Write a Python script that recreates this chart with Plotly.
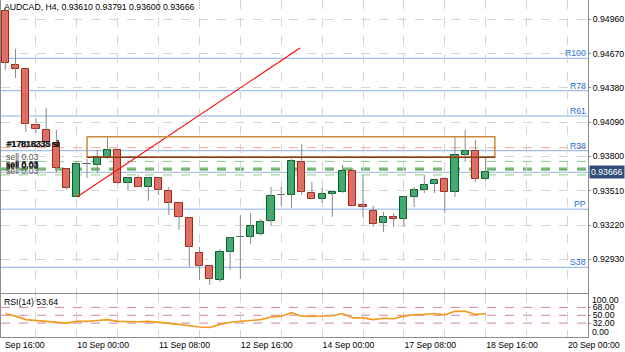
import plotly.graph_objects as go

# ---------------- data ----------------
symbol_title = "AUDCAD, H4, 0.93610 0.93791 0.93600 0.93666"
rsi_title = "RSI(14) 53.64"

bar_index = list(range(48))
opens = [0.95030, 0.94574, 0.94540, 0.94066, 0.94024, 0.93914, 0.93694, 0.93458,
         0.93737, 0.93728, 0.93796, 0.93855, 0.93576, 0.93618, 0.93542, 0.93618,
         0.93508, 0.93407, 0.93280, 0.92984, 0.92874, 0.92756, 0.92993, 0.93119,
         0.93119, 0.93145, 0.93255, 0.93475, 0.93475, 0.93753, 0.93491, 0.93441,
         0.93483, 0.93500, 0.93677, 0.93390, 0.93339, 0.93238, 0.93289, 0.93272,
         0.93458, 0.93517, 0.93567, 0.93610, 0.93500, 0.93813, 0.93846, 0.93610]
highs = [0.95056, 0.94709, 0.94545, 0.94126, 0.94210, 0.94024, 0.93700, 0.93762,
         0.93779, 0.93855, 0.93973, 0.93860, 0.93625, 0.93644, 0.93625, 0.93625,
         0.93542, 0.93412, 0.93285, 0.93035, 0.92880, 0.93018, 0.93120, 0.93305,
         0.93322, 0.93272, 0.93542, 0.93542, 0.93779, 0.93906, 0.93584, 0.93534,
         0.93505, 0.93728, 0.93703, 0.93644, 0.93382, 0.93331, 0.93322, 0.93462,
         0.93542, 0.93644, 0.93605, 0.93627, 0.93965, 0.94024, 0.93940, 0.93791]
lows = [0.94531, 0.94464, 0.94007, 0.93999, 0.93914, 0.93661, 0.93517, 0.93458,
        0.93618, 0.93661, 0.93779, 0.93570, 0.93517, 0.93540, 0.93424, 0.93475,
        0.93305, 0.93179, 0.92866, 0.92756, 0.92714, 0.92739, 0.92840, 0.92764,
        0.93060, 0.93128, 0.93212, 0.93382, 0.93365, 0.93475, 0.93436, 0.93407,
        0.93289, 0.93491, 0.93378, 0.93289, 0.93204, 0.93162, 0.93204, 0.93204,
        0.93373, 0.93491, 0.93491, 0.93322, 0.93458, 0.93753, 0.93584, 0.93600]
closes = [0.94591, 0.94540, 0.94075, 0.94033, 0.93923, 0.93703, 0.93534, 0.93737,
          0.93740, 0.93796, 0.93855, 0.93576, 0.93618, 0.93542, 0.93618, 0.93517,
          0.93407, 0.93289, 0.93035, 0.92874, 0.92764, 0.92993, 0.93111, 0.93122,
          0.93212, 0.93246, 0.93466, 0.93478, 0.93762, 0.93500, 0.93441, 0.93483,
          0.93500, 0.93677, 0.93382, 0.93373, 0.93229, 0.93289, 0.93272, 0.93458,
          0.93517, 0.93559, 0.93601, 0.93500, 0.93813, 0.93846, 0.93610, 0.93666]
rsi_values = [54, 48, 40, 38, 37, 34, 32, 36, 36, 38, 40, 36, 35, 35, 36, 34,
              31, 29, 26, 23, 22, 29, 34, 36, 39, 40, 46, 48, 56, 48, 47, 48,
              49, 54, 44, 44, 40, 43, 42, 48, 51, 52, 54, 51, 59, 59, 52, 53.64]

grid_index = [3, 7, 11, 15, 19, 23, 27, 31, 35, 39, 43, 47, 51, 55]
grid_text = ["", "10 Sep 00:00", "", "11 Sep 08:00", "", "12 Sep 16:00", "",
             "14 Sep 00:00", "", "17 Sep 08:00", "", "18 Sep 16:00", "", "20 Sep 00:00"]
first_time_label = "Sep 16:00"

price_ticks = [0.92930, 0.93220, 0.93510, 0.93800, 0.94090, 0.94380, 0.94670, 0.94960]
pivot_names = ["R100", "R78", "R61", "R38", "PP", "S38"]
pivot_levels = [0.94630, 0.94356, 0.94142, 0.93849, 0.93354, 0.92863]
bid_price = 0.93666
sl_level = 0.93874
sl_labels = ["#17818233 sl", "#17818330 sl", "#17818335 sl"]
order_levels = [0.93758, 0.93703, 0.93695, 0.93686, 0.93644]
order_labels = ["sell 0.03", "sell 0.03", "sell 0.03", "sell 0.03", "sell 0.03"]
box_x = [8.0, 47.9]
box_y = [0.93793, 0.93967]
trend_x = [7, 28.84]
trend_y = [0.93458, 0.94717]
rsi_levels = [68, 50, 32]
rsi_bounds = [100, 0]

# ---------------- styles ----------------
FONT = "Liberation Sans, Arial, sans-serif"
FS = 8.7
GRID = "#d4d4d4"
FRAME = "#8c8c8c"

up = [c >= o for o, c in zip(opens, closes)]
doji = [abs(c - o) < 0.00005 for o, c in zip(opens, closes)]
body_base = [min(o, c) for o, c in zip(opens, closes)]
body_h = [max(abs(c - o), 0.000015) for o, c in zip(opens, closes)]
fill = ["#8f8f8f" if d else ("#33b06a" if u else "#f3685b") for u, d in zip(up, doji)]
edge = ["#606060" if d else ("#0e5a2b" if u else "#9a2a1e") for u, d in zip(up, doji)]

wick_x, wick_y = [], []
for i, h, l in zip(bar_index, highs, lows):
    wick_x += [i, i, None]
    wick_y += [l, h, None]

fig = go.Figure()
fig.add_trace(go.Scatter(x=wick_x, y=wick_y, mode="lines",
                         line=dict(color="#8a8a8a", width=1),
                         xaxis="x", yaxis="y", hoverinfo="skip"))
fig.add_trace(go.Bar(x=bar_index, y=body_h, base=body_base, width=0.7,
                     marker=dict(color=fill, line=dict(color=edge, width=1)),
                     xaxis="x", yaxis="y", hoverinfo="skip"))
fig.add_trace(go.Scatter(x=trend_x, y=trend_y, mode="lines",
                         line=dict(color="#ff1010", width=1.2),
                         xaxis="x", yaxis="y", hoverinfo="skip"))
fig.add_trace(go.Scatter(x=bar_index, y=rsi_values, mode="lines",
                         line=dict(color="#f29a1c", width=1.6),
                         xaxis="x2", yaxis="y2", hoverinfo="skip"))

shapes = []
for lvl in pivot_levels:
    shapes.append(dict(type="line", xref="x domain", yref="y", x0=0, x1=1, y0=lvl, y1=lvl,
                       line=dict(color="#88aee6", width=1), layer="below"))
shapes.append(dict(type="line", xref="x domain", yref="y", x0=0, x1=1, y0=bid_price, y1=bid_price,
                   line=dict(color="#9db5d6", width=1), layer="below"))
shapes.append(dict(type="line", xref="x domain", yref="y", x0=0, x1=1, y0=sl_level, y1=sl_level,
                   line=dict(color="#f6a58c", width=1, dash="dash"), layer="below"))
order_colors = ["#8cc88c", "#7cc27c", "#4fa54f", "#2f8a2f", "#8cc88c"]
order_widths = [1, 1, 1, 1, 1]
for lvl, col, w in zip(order_levels, order_colors, order_widths):
    shapes.append(dict(type="line", xref="x domain", yref="y", x0=0, x1=1, y0=lvl, y1=lvl,
                       line=dict(color=col, width=w, dash="dash"), layer="below"))
shapes.append(dict(type="rect", xref="x", yref="y", x0=box_x[0], x1=box_x[1],
                   y0=box_y[0], y1=box_y[1], line=dict(color="#c98a3c", width=1.5)))
shapes.append(dict(type="line", xref="x", yref="y", x0=box_x[0], x1=box_x[1],
                   y0=box_y[0], y1=box_y[0], line=dict(color="#8a3a12", width=1.5)))
for lvl in rsi_levels:
    shapes.append(dict(type="line", xref="x2 domain", yref="y2", x0=0, x1=1, y0=lvl, y1=lvl,
                       line=dict(color="#c987a6", width=1, dash="dash"), layer="below"))

ann = []
ann.append(dict(text=symbol_title, xref="paper", yref="paper", x=0, y=1, xanchor="left",
                yanchor="top", xshift=1, yshift=0, showarrow=False,
                font=dict(family=FONT, size=FS, color="#000")))
ann.append(dict(text=rsi_title, xref="paper", yref="y2 domain", x=0, y=1, xanchor="left",
                yanchor="top", xshift=1, yshift=-1, showarrow=False,
                font=dict(family=FONT, size=FS, color="#000")))
ann.append(dict(text=first_time_label, xref="paper", yref="paper", x=0, y=0, xanchor="left",
                yanchor="top", xshift=2, yshift=-1, showarrow=False,
                font=dict(family=FONT, size=FS, color="#000")))
for name, lvl in zip(pivot_names, pivot_levels):
    ann.append(dict(text=name, xref="paper", yref="y", x=1, y=lvl, xanchor="right",
                    yanchor="bottom", xshift=0, yshift=-2, showarrow=False,
                    font=dict(family=FONT, size=FS, color="#2a6fd6")))
ann.append(dict(text=f"{bid_price:.5f}", xref="paper", yref="y", x=1, y=bid_price,
                xanchor="left", yanchor="middle", xshift=1, showarrow=False,
                bgcolor="#2f4d78", borderpad=1,
                font=dict(family=FONT, size=FS, color="#ffffff")))
for k, t in enumerate(sl_labels):
    ann.append(dict(text=t, xref="paper", yref="y", x=0, y=sl_level, xanchor="left",
                    yanchor="bottom", xshift=3 + 0.5 * k, yshift=-3, showarrow=False,
                    font=dict(family=FONT, size=FS, color="#111")))
order_text_colors = ["#555", "#111", "#111", "#111", "#555"]
for t, lvl, col in zip(order_labels, order_levels, order_text_colors):
    ann.append(dict(text=t, xref="paper", yref="y", x=0, y=lvl, xanchor="left",
                    yanchor="bottom", xshift=3, yshift=-3, showarrow=False,
                    font=dict(family=FONT, size=FS, color=col)))
ann.append(dict(text=f"{rsi_bounds[0]:.2f}", xref="paper", yref="y2", x=1, y=rsi_bounds[0],
                xanchor="left", yanchor="top", xshift=2, yshift=1, showarrow=False,
                font=dict(family=FONT, size=FS, color="#000")))
ann.append(dict(text=f"{rsi_bounds[1]:.2f}", xref="paper", yref="y2", x=1, y=rsi_bounds[1],
                xanchor="left", yanchor="bottom", xshift=2, yshift=-2, showarrow=False,
                font=dict(family=FONT, size=FS, color="#000")))

xr = [-0.421, 57.016]
common_x = dict(range=xr, tickmode="array", tickvals=grid_index, ticktext=grid_text,
                showgrid=True, gridcolor=GRID, griddash="dash", gridwidth=1,
                zeroline=False, showline=True, linecolor=FRAME, linewidth=1, mirror=True,
                ticks="", fixedrange=True)

fig.update_layout(
    width=625, height=352,
    margin=dict(l=1, r=37, t=0, b=15),
    paper_bgcolor="white", plot_bgcolor="white",
    showlegend=False, bargap=0, hovermode=False,
    font=dict(family=FONT, size=FS, color="#111"),
    xaxis=dict(domain=[0, 1], anchor="y", showticklabels=False, **common_x),
    xaxis2=dict(domain=[0, 1], anchor="y2", matches="x", showticklabels=True,
                ticklabelposition="outside right",
                tickfont=dict(family=FONT, size=FS, color="#000"), **common_x),
    yaxis=dict(domain=[0.1315, 1], anchor="x", range=[0.92648, 0.95123], side="right",
               tickmode="array", tickvals=price_ticks,
               ticktext=[f"{v:.5f}" for v in price_ticks],
               showgrid=True, gridcolor=GRID, griddash="dash", zeroline=False,
               ticks="outside", ticklen=2, tickcolor=FRAME,
               showline=True, linecolor=FRAME, mirror=True,
               tickfont=dict(family=FONT, size=FS, color="#000"), fixedrange=True),
    yaxis2=dict(domain=[0, 0.129], anchor="x2", range=[0, 100], side="right",
                tickmode="array", tickvals=rsi_levels,
                ticktext=[f"{v:.2f}" for v in rsi_levels],
                showgrid=False, zeroline=False, ticks="outside", ticklen=2, tickcolor=FRAME,
                showline=True, linecolor=FRAME, mirror=True,
                tickfont=dict(family=FONT, size=FS, color="#000"), fixedrange=True),
    shapes=shapes,
    annotations=ann,
)

fig.write_html("out.html")
